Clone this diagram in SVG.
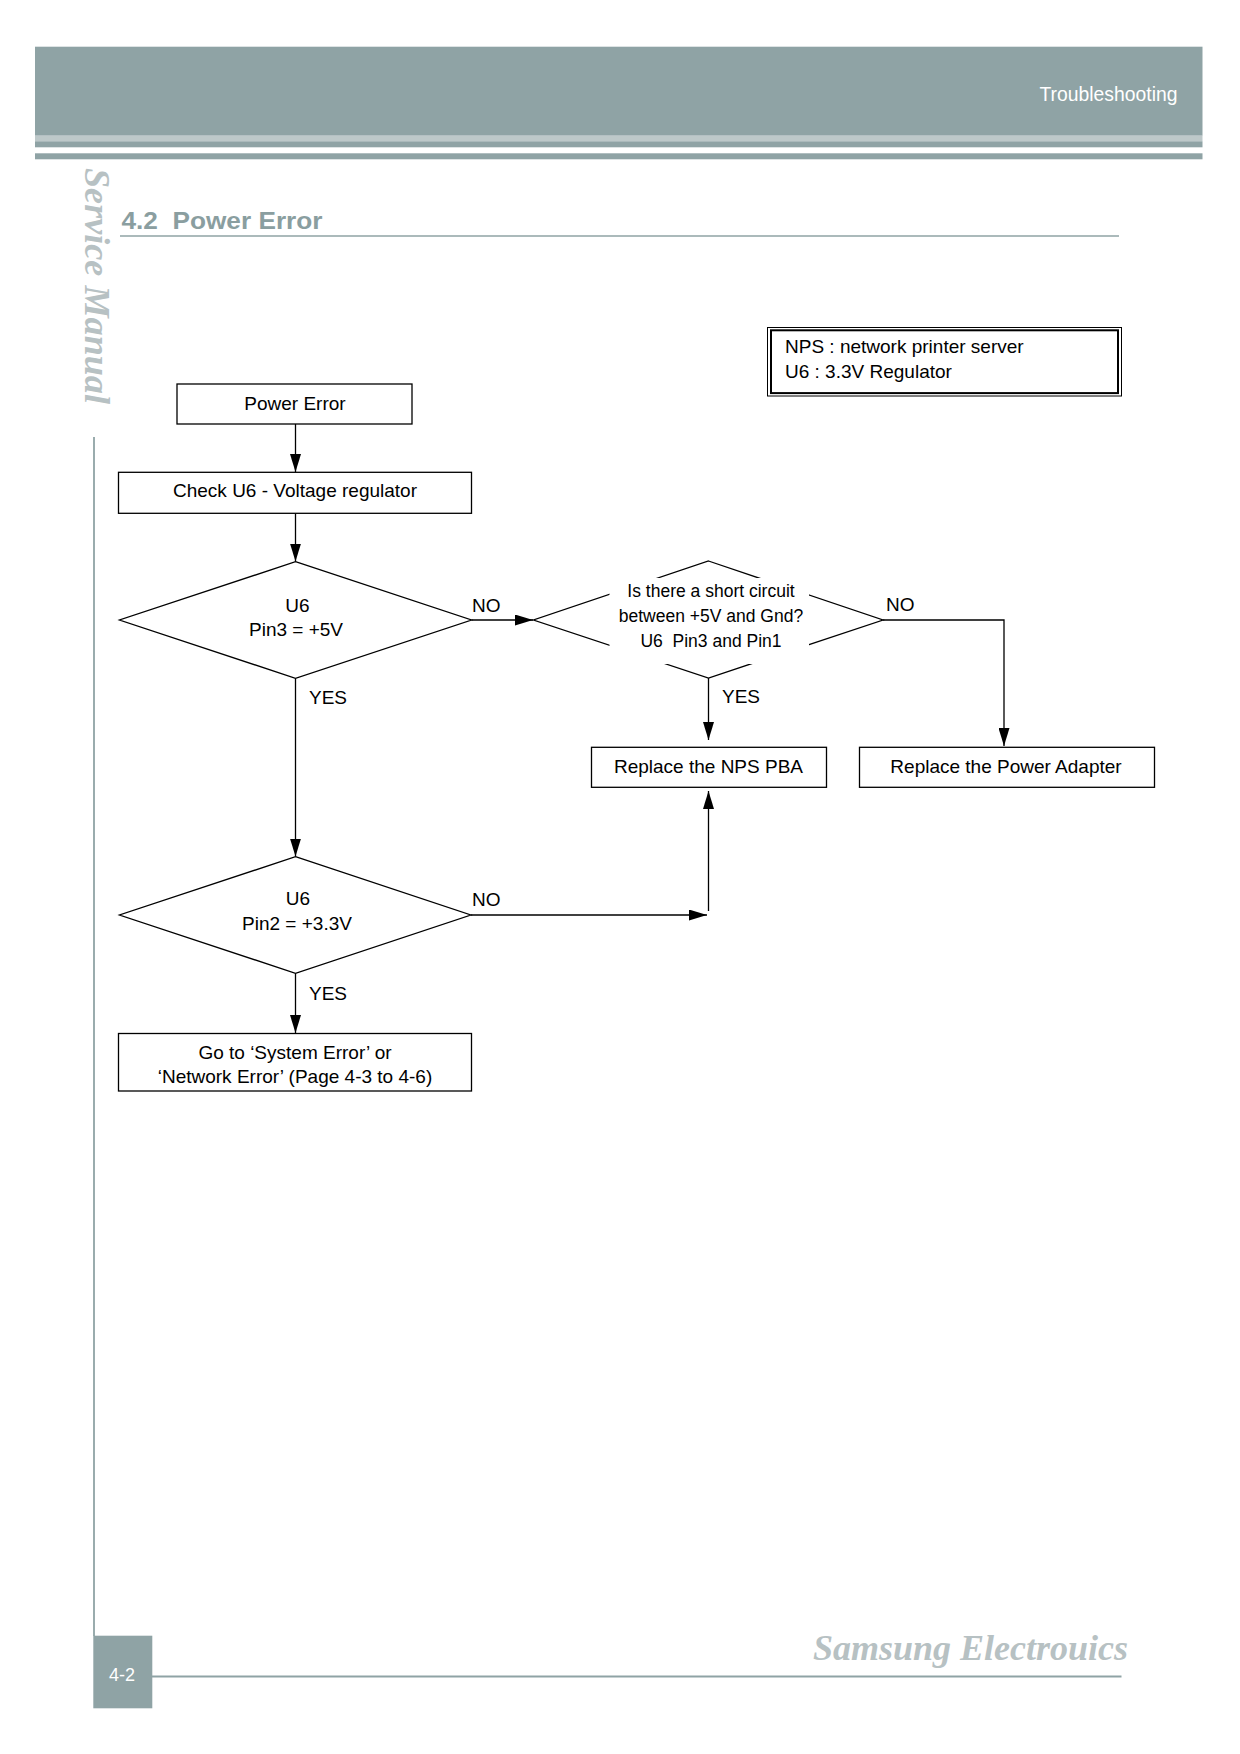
<svg xmlns="http://www.w3.org/2000/svg" width="1240" height="1754" viewBox="0 0 1240 1754">
  <defs>
    <marker id="arr" markerUnits="userSpaceOnUse" markerWidth="18" markerHeight="11" refX="18" refY="5.5" orient="auto">
      <path d="M0,0 L18,5.5 L0,11 z" fill="#000"/>
    </marker>
    <style>
      .box { fill: #fff; stroke: #000; stroke-width: 1.3; }
      .dia { fill: #fff; stroke: #000; stroke-width: 1.3; }
      .t { font-family: "Liberation Sans", Arial, sans-serif; font-size: 19px; fill: #000; }
      .tc { text-anchor: middle; }
      .ts { font-family: "Liberation Sans", Arial, sans-serif; font-size: 17.5px; fill: #000; text-anchor: middle; }
      .con { fill: none; stroke: #000; stroke-width: 1.3; }
      .band { fill: #8fa3a5; }
      .serif { font-family: "Liberation Serif", "Times New Roman", serif; font-weight: bold; font-style: italic; fill: #b7c1c3; }
    </style>
  </defs>
  <rect x="0" y="0" width="1240" height="1754" fill="#fff"/>

  <!-- page header -->
  <g id="header">
    <rect class="band" x="35" y="46.7" width="1167.5" height="89"/>
    <rect x="35" y="135.7" width="1167.5" height="5.6" fill="#bdc8c9"/>
    <rect class="band" x="35" y="141.3" width="1167.5" height="6"/>
    <rect class="band" x="35" y="153.3" width="1167.5" height="6"/>
    <text x="1177.5" y="100.5" font-family="Liberation Sans, Arial, sans-serif" font-size="20" fill="#fff" text-anchor="end" textLength="138" lengthAdjust="spacingAndGlyphs">Troubleshooting</text>
  </g>

  <g id="side">
    <text class="serif" transform="translate(85,168) rotate(90)" x="0" y="0" font-size="36" textLength="236" lengthAdjust="spacingAndGlyphs">Service Manual</text>
    <line x1="94" y1="437" x2="94" y2="1636" stroke="#8fa3a5" stroke-width="1.8"/>
  </g>

  <g id="title">
    <text x="121.5" y="229.3" font-family="Liberation Sans, Arial, sans-serif" font-size="24.5" font-weight="bold" fill="#8a9ea0" textLength="201" lengthAdjust="spacingAndGlyphs" xml:space="preserve">4.2  Power Error</text>
    <line x1="120" y1="236" x2="1119" y2="236" stroke="#8fa3a5" stroke-width="1.3"/>
  </g>

  <g id="legend">
    <rect x="767.5" y="327.5" width="354" height="68.5" fill="#fff" stroke="#000" stroke-width="1"/>
    <rect x="771" y="330.3" width="347" height="62.8" fill="none" stroke="#000" stroke-width="2"/>
    <text class="t" x="785" y="353">NPS : network printer server</text>
    <text class="t" x="785" y="378">U6 : 3.3V Regulator</text>
  </g>

  <!-- connectors -->
  <g id="connectors">
    <line class="con" x1="295.5" y1="424" x2="295.5" y2="472" marker-end="url(#arr)"/>
    <line class="con" x1="295.5" y1="513.5" x2="295.5" y2="561.5" marker-end="url(#arr)"/>
    <line class="con" x1="471.5" y1="620" x2="533" y2="620" marker-end="url(#arr)"/>
    <line class="con" x1="295.5" y1="678.3" x2="295.5" y2="856.5" marker-end="url(#arr)"/>
    <line class="con" x1="708.5" y1="677.7" x2="708.5" y2="740" marker-end="url(#arr)"/>
    <polyline class="con" points="883,620 1004,620 1004,746" marker-end="url(#arr)"/>
    <line class="con" x1="470.8" y1="915" x2="707" y2="915" marker-end="url(#arr)"/>
    <line class="con" x1="708.5" y1="911" x2="708.5" y2="791" marker-end="url(#arr)"/>
    <line class="con" x1="295.5" y1="973.3" x2="295.5" y2="1033" marker-end="url(#arr)"/>
    <text class="t" x="472" y="611.5">NO</text>
    <text class="t" x="309" y="703.5">YES</text>
    <text class="t" x="886" y="610.7">NO</text>
    <text class="t" x="722" y="703.3">YES</text>
    <text class="t" x="472" y="906">NO</text>
    <text class="t" x="309" y="1000">YES</text>
  </g>

  <!-- nodes -->
  <g id="n-power-error">
    <rect class="box" x="177" y="384" width="235" height="40"/>
    <text class="t tc" x="295" y="410">Power Error</text>
  </g>
  <g id="n-check-u6">
    <rect class="box" x="118.5" y="472.3" width="353" height="41"/>
    <text class="t tc" x="295" y="497.3">Check U6 - Voltage regulator</text>
  </g>
  <g id="n-pin3">
    <polygon class="dia" points="295.5,561.7 471.5,620 295.5,678.3 119.5,620"/>
    <text class="t tc" x="297.5" y="611.5">U6</text>
    <text class="t tc" x="296" y="636">Pin3 = +5V</text>
  </g>
  <g id="n-short">
    <polygon class="dia" points="708.5,561 883,620 708.5,678 533.5,620"/>
    <rect x="609.5" y="578" width="199.5" height="86" fill="#fff"/>
    <text class="ts" x="711" y="597">Is there a short circuit</text>
    <text class="ts" x="711" y="621.5">between +5V and Gnd?</text>
    <text class="ts" x="711" y="647" xml:space="preserve">U6  Pin3 and Pin1</text>
  </g>
  <g id="n-replace-nps">
    <rect class="box" x="591.5" y="747.3" width="235" height="40"/>
    <text class="t tc" x="708.5" y="773.3">Replace the NPS PBA</text>
  </g>
  <g id="n-replace-adapter">
    <rect class="box" x="859.5" y="747.3" width="295" height="40"/>
    <text class="t tc" x="1006" y="773.3">Replace the Power Adapter</text>
  </g>
  <g id="n-pin2">
    <polygon class="dia" points="295.5,856.7 470.8,915 295.5,973.3 119.5,915"/>
    <text class="t tc" x="298" y="905">U6</text>
    <text class="t tc" x="297" y="930">Pin2 = +3.3V</text>
  </g>
  <g id="n-goto">
    <rect class="box" x="118.5" y="1033.5" width="353" height="57.5"/>
    <text class="t tc" x="295" y="1058.5">Go to ‘System Error’ or</text>
    <text class="t tc" x="295" y="1083.3">‘Network Error’ (Page 4-3 to 4-6)</text>
  </g>

  <!-- footer -->
  <g id="footer">
    <rect class="band" x="93.3" y="1635.7" width="59" height="72.6"/>
    <text x="122" y="1681" font-family="Liberation Sans, Arial, sans-serif" font-size="18" fill="#fff" text-anchor="middle">4-2</text>
    <line x1="152" y1="1676.5" x2="1121.5" y2="1676.5" stroke="#8fa3a5" stroke-width="1.8"/>
    <text class="serif" x="1128" y="1660" font-size="36" text-anchor="end" textLength="315" lengthAdjust="spacingAndGlyphs">Samsung Electrouics</text>
  </g>
</svg>
